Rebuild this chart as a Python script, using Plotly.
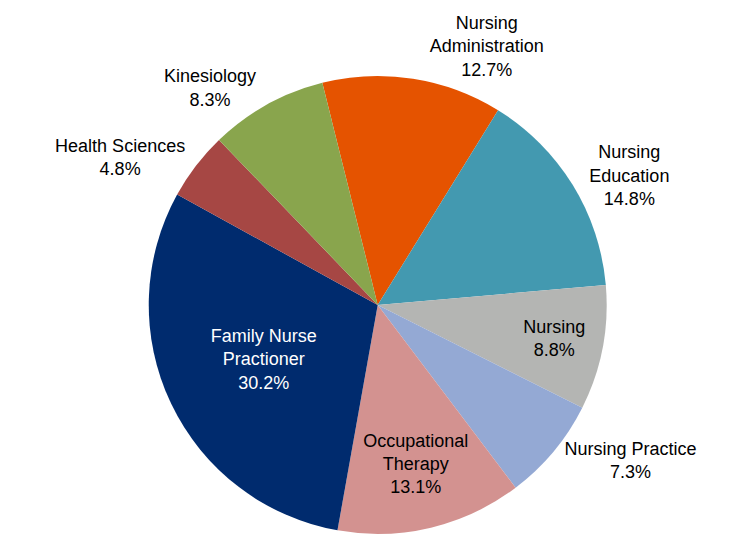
import plotly.graph_objects as go

labels = ["Nursing Administration", "Nursing Education", "Nursing", "Nursing Practice",
          "Occupational Therapy", "Family Nurse Practioner", "Health Sciences", "Kinesiology"]
display_labels = ["Nursing<br>Administration", "Nursing<br>Education", "Nursing", "Nursing Practice",
                  "Occupational<br>Therapy", "Family Nurse<br>Practioner", "Health Sciences", "Kinesiology"]
values = [12.7, 14.8, 8.8, 7.3, 13.1, 30.2, 4.8, 8.3]
colors = ["#E55300", "#4399B0", "#B4B5B3", "#94A9D4", "#D39290", "#002B6E", "#A64744", "#89A54D"]
positions = ["outside", "outside", "inside", "outside", "inside", "inside", "outside", "outside"]
text_colors = ["black", "black", "black", "black", "black", "white", "black", "black"]

FONT = "Liberation Sans, Arial, sans-serif"

fig = go.Figure(go.Pie(
    labels=labels,
    values=values,
    customdata=display_labels,
    texttemplate="%{customdata}<br>%{value:.1f}%",
    textposition=positions,
    insidetextorientation="horizontal",
    textfont=dict(family=FONT, size=18, color=text_colors),
    insidetextfont=dict(family=FONT, size=18, color=text_colors),
    outsidetextfont=dict(family=FONT, size=18, color="black"),
    marker=dict(colors=colors, line=dict(width=0)),
    sort=False,
    direction="clockwise",
    rotation=-14,
    showlegend=False,
    hoverinfo="label+percent",
    domain=dict(x=[0.13, 1.0], y=[0.04, 1.0]),
))

fig.update_layout(
    width=736, height=545,
    margin=dict(l=0, r=0, t=0, b=0),
    paper_bgcolor="white",
    plot_bgcolor="white",
    font=dict(family=FONT, size=18, color="black"),
)

fig.write_html("out.html")
